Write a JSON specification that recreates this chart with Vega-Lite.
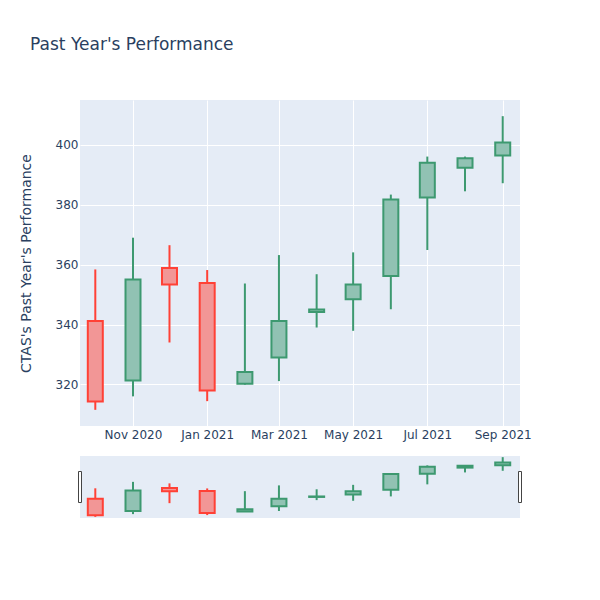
{
  "$schema": "https://vega.github.io/schema/vega-lite/v6.json",
  "background": "white",
  "padding": {"left": 19, "top": 36, "right": 5, "bottom": 5},
  "title": {"text": "Past Year's Performance", "anchor": "start", "fontSize": 17, "font": "DejaVu Sans", "fontWeight": "normal", "color": "#2a3f5f", "offset": 46, "dx": 11},
  "data": {"values": [
    {"date": "2020-10-01T00:00:00", "open": 341.2, "high": 358.4, "low": 311.5, "close": 314.3},
    {"date": "2020-11-01T00:00:00", "open": 321.3, "high": 369.0, "low": 316.0, "close": 355.0},
    {"date": "2020-12-01T00:00:00", "open": 358.9, "high": 366.5, "low": 334.0, "close": 353.4},
    {"date": "2021-01-01T00:00:00", "open": 353.9, "high": 358.2, "low": 314.4, "close": 318.0},
    {"date": "2021-02-01T00:00:00", "open": 320.2, "high": 353.7, "low": 319.9, "close": 324.1},
    {"date": "2021-03-01T00:00:00", "open": 329.0, "high": 363.2, "low": 321.1, "close": 341.2},
    {"date": "2021-04-01T00:00:00", "open": 344.2, "high": 356.8, "low": 339.0, "close": 345.0},
    {"date": "2021-05-01T00:00:00", "open": 348.4, "high": 364.1, "low": 337.9, "close": 353.4},
    {"date": "2021-06-01T00:00:00", "open": 356.2, "high": 383.4, "low": 345.1, "close": 381.8},
    {"date": "2021-07-01T00:00:00", "open": 382.4, "high": 396.1, "low": 364.9, "close": 394.0},
    {"date": "2021-08-01T00:00:00", "open": 392.4, "high": 396.1, "low": 384.5, "close": 395.5},
    {"date": "2021-09-01T00:00:00", "open": 396.5, "high": 409.6, "low": 387.2, "close": 400.8}
  ]},
  "spacing": 16,
  "vconcat": [
    {
      "width": 440,
      "height": 326,
      "layer": [
        {
          "mark": {"type": "rule", "strokeWidth": 2},
          "encoding": {
            "x": {"field": "date", "type": "temporal",
              "scale": {"padding": 0, "domain": [{"year": 2020, "month": 9, "date": 18, "hours": 10}, {"year": 2021, "month": 9, "date": 15, "hours": 5}]},
              "axis": {"title": null, "format": "%b %Y", "labelPadding": 3,
                "values": [{"year": 2020, "month": 11, "date": 1}, {"year": 2021, "month": 1, "date": 1}, {"year": 2021, "month": 3, "date": 1}, {"year": 2021, "month": 5, "date": 1}, {"year": 2021, "month": 7, "date": 1}, {"year": 2021, "month": 9, "date": 1}]}},
            "y": {"field": "low", "type": "quantitative",
              "scale": {"domain": [306.1, 415.0], "nice": false, "zero": false, "padding": 0},
              "axis": {"title": "CTAS's Past Year's Performance", "values": [320, 340, 360, 380, 400], "labelPadding": 2, "titlePadding": 22}},
            "y2": {"field": "high"},
            "color": {"condition": {"test": "datum.close >= datum.open", "value": "#3D9970"}, "value": "#FF4136"}
          }
        },
        {
          "mark": {"type": "bar", "size": 15, "strokeWidth": 2},
          "encoding": {
            "x": {"field": "date", "type": "temporal"},
            "y": {"field": "open", "type": "quantitative"},
            "y2": {"field": "close"},
            "stroke": {"condition": {"test": "datum.close >= datum.open", "value": "#3D9970"}, "value": "#FF4136"},
            "fill": {"condition": {"test": "datum.close >= datum.open", "value": "#91c2b3"}, "value": "#f29696"}
          }
        }
      ]
    },
    {
      "width": 440,
      "height": 62,
      "layer": [
        {
          "mark": {"type": "rule", "strokeWidth": 2},
          "encoding": {
            "x": {"field": "date", "type": "temporal",
              "scale": {"padding": 0, "domain": [{"year": 2020, "month": 9, "date": 18, "hours": 10}, {"year": 2021, "month": 9, "date": 15, "hours": 5}]},
              "axis": null},
            "y": {"field": "low", "type": "quantitative",
              "scale": {"domain": [309.6, 411.5], "nice": false, "zero": false, "padding": 0}, "axis": null},
            "y2": {"field": "high"},
            "color": {"condition": {"test": "datum.close >= datum.open", "value": "#3D9970"}, "value": "#FF4136"}
          }
        },
        {
          "mark": {"type": "bar", "size": 15, "strokeWidth": 2},
          "encoding": {
            "x": {"field": "date", "type": "temporal"},
            "y": {"field": "open", "type": "quantitative"},
            "y2": {"field": "close"},
            "stroke": {"condition": {"test": "datum.close >= datum.open", "value": "#3D9970"}, "value": "#FF4136"},
            "fill": {"condition": {"test": "datum.close >= datum.open", "value": "#91c2b3"}, "value": "#f29696"}
          }
        },
        {
          "data": {"values": [{"edge": "2020-09-18T10:00:00"}, {"edge": "2021-09-15T05:00:00"}]},
          "mark": {"type": "tick", "orient": "vertical", "size": 31, "thickness": 3, "fill": "white", "stroke": "#444444", "strokeWidth": 1, "opacity": 1},
          "encoding": {
            "x": {"field": "edge", "type": "temporal"}
          }
        }
      ]
    }
  ],
  "resolve": {"scale": {"x": "independent", "y": "independent"}},
  "config": {
    "font": "DejaVu Sans",
    "view": {"stroke": null, "fill": "#e5ecf6"},
    "axis": {"domain": false, "ticks": false, "grid": true, "gridColor": "white", "gridWidth": 1, "gridOpacity": 1,
      "labelColor": "#2a3f5f", "labelFont": "DejaVu Sans", "labelFontSize": 12,
      "titleColor": "#2a3f5f", "titleFont": "DejaVu Sans", "titleFontSize": 14, "titleFontWeight": "normal"}
  }
}
